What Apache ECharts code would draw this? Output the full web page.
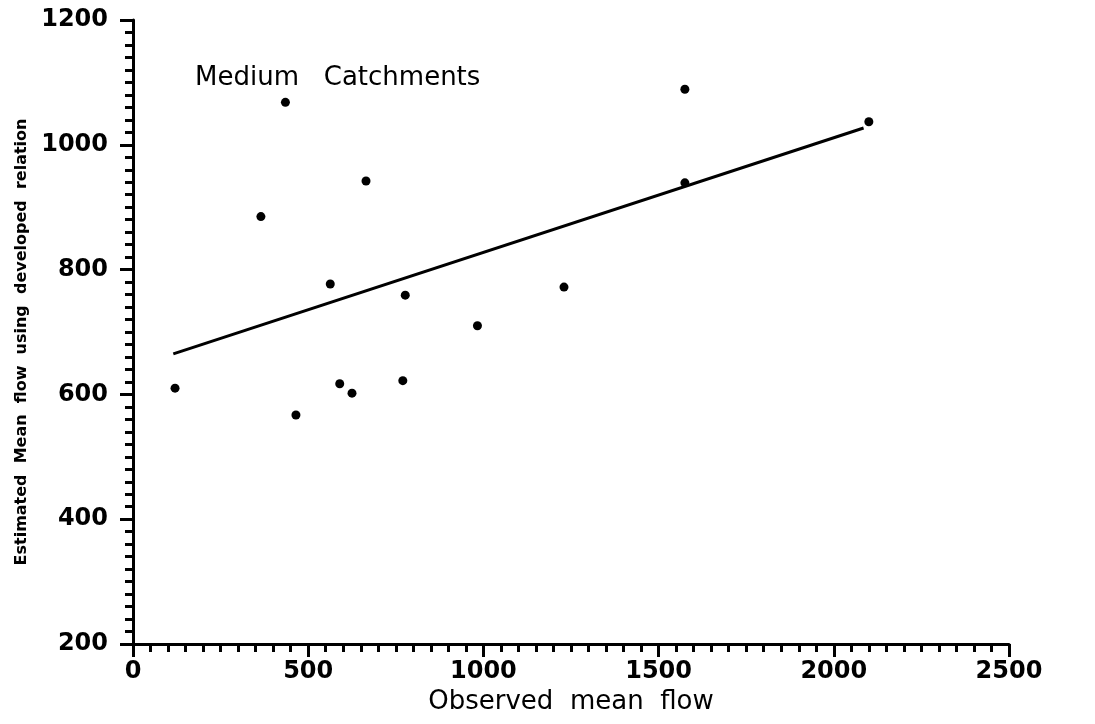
<!DOCTYPE html>
<html>
<head>
<meta charset="utf-8">
<script src="https://cdn.jsdelivr.net/npm/echarts@6/dist/echarts.min.js"></script>
<style>html,body{margin:0;padding:0;background:#fff;}#c{width:1095px;height:724px;}</style>
</head>
<body>
<div id="c"></div>
<script>
var titleText = 'Medium   Catchments';
var xName = 'Observed  mean  flow';
var yName = 'Estimated  Mean  flow  using  developed  relation';
var obsFlow = [120, 365, 435, 465, 563, 590, 625, 665, 770, 777, 983, 1230, 1575, 1575, 2100];
var estFlow = [610, 885, 1068, 567, 777, 617, 602, 942, 622, 759, 710, 772, 1089, 939, 1037];
var fitX = [115, 2085];
var fitY = [665, 1027];

var chart = echarts.init(document.getElementById('c'));
var pts = obsFlow.map(function (x, i) { return [x, estFlow[i]]; });
var fit = fitX.map(function (x, i) { return [x, fitY[i]]; });
var tickFont = { color: '#000', fontFamily: 'DejaVu Sans', fontWeight: 'bold', fontSize: 24,
  formatter: function (v) { return String(v); } };
chart.setOption({
  animation: false,
  backgroundColor: '#fff',
  title: {
    text: titleText, left: 190, top: 60,
    textStyle: { color: '#000', fontFamily: 'DejaVu Sans', fontWeight: 'normal', fontSize: 26 }
  },
  grid: { left: 133, top: 20, right: 86, bottom: 80 },
  xAxis: {
    type: 'value', min: 0, max: 2500, interval: 500,
    name: xName, nameLocation: 'middle', nameGap: 42,
    nameTextStyle: { color: '#000', fontFamily: 'DejaVu Sans', fontSize: 26 },
    axisLine: { show: true, lineStyle: { color: '#000', width: 3 } },
    axisTick: { show: true, inside: false, length: 13, lineStyle: { color: '#000', width: 3 } },
    minorTick: { show: true, splitNumber: 10, length: 8, lineStyle: { color: '#000', width: 3 } },
    axisLabel: Object.assign({ margin: 16 }, tickFont),
    splitLine: { show: false }, minorSplitLine: { show: false }
  },
  yAxis: {
    type: 'value', min: 200, max: 1200, interval: 200,
    name: yName, nameLocation: 'middle', nameGap: 100, nameRotate: 90,
    nameTextStyle: { color: '#000', fontFamily: 'DejaVu Sans', fontWeight: 'bold', fontSize: 16, padding: [0, 20, 0, 0] },
    axisLine: { show: true, lineStyle: { color: '#000', width: 3 } },
    axisTick: { show: true, inside: false, length: 13, lineStyle: { color: '#000', width: 3 } },
    minorTick: { show: true, splitNumber: 10, length: 8, lineStyle: { color: '#000', width: 3 } },
    axisLabel: Object.assign({ margin: 25 }, tickFont),
    splitLine: { show: false }, minorSplitLine: { show: false }
  },
  series: [
    { type: 'scatter', data: pts, symbol: 'circle', symbolSize: 9, itemStyle: { color: '#000', opacity: 1 } },
    { type: 'line', data: fit, symbol: 'none', lineStyle: { color: '#000', width: 3 } }
  ]
});
</script>
</body>
</html>
